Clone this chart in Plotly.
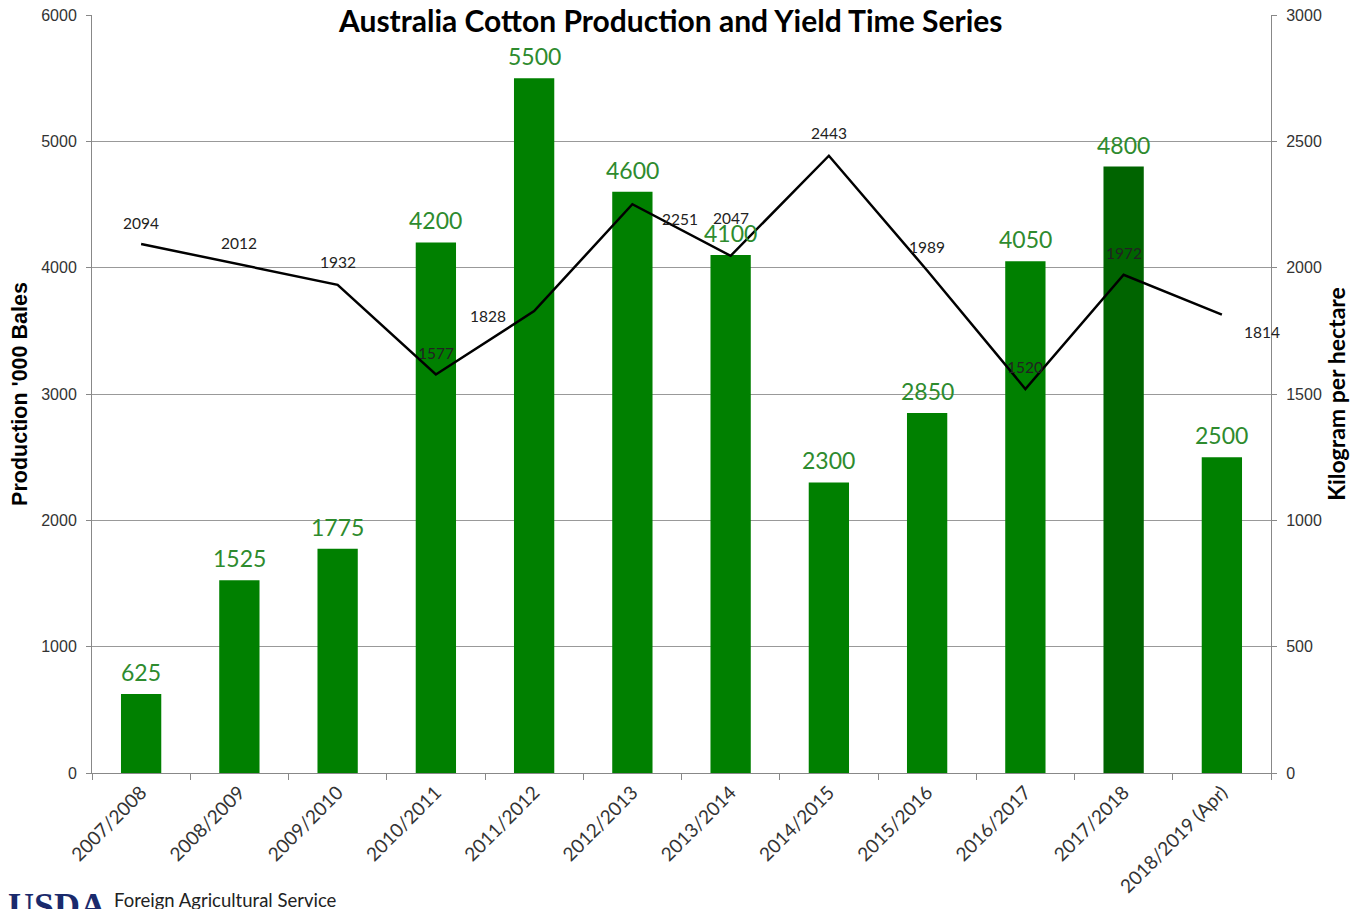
import plotly.graph_objects as go

seasons = ["2007/2008", "2008/2009", "2009/2010", "2010/2011", "2011/2012", "2012/2013",
           "2013/2014", "2014/2015", "2015/2016", "2016/2017", "2017/2018", "2018/2019 (Apr)"]
production = [625, 1525, 1775, 4200, 5500, 4600, 4100, 2300, 2850, 4050, 4800, 2500]
yield_kg = [2094, 2012, 1932, 1577, 1828, 2251, 2047, 2443, 1989, 1520, 1972, 1814]

# label offsets for the yield line labels (px), roughly where Excel put them
yield_label_shift = [(0, 21), (0, 22), (0, 23), (0, 22), (-46, -5), (48, -15),
                     (0, 38), (0, 23), (0, 23), (0, 22), (0, 22), (40, -17)]

bar_colors = ["#008000"] * len(seasons)
bar_colors[10] = "#006400"

font_family = "Lato, 'Open Sans', sans-serif"
arial = "'Liberation Sans', Arial, sans-serif"

fig = go.Figure()
fig.add_trace(go.Bar(
    x=seasons, y=production,
    marker=dict(color=bar_colors, line=dict(width=0)),
    name="Production",
    yaxis="y"
))
fig.add_trace(go.Scatter(
    x=seasons, y=yield_kg,
    mode="lines",
    line=dict(color="black", width=2.5),
    name="Yield",
    yaxis="y2"
))

annotations = []
for s, p in zip(seasons, production):
    annotations.append(dict(
        x=s, y=p, xref="x", yref="y", text=str(p), showarrow=False,
        yanchor="middle", yshift=22,
        font=dict(family=font_family, size=23, color="#2e8b2e")
    ))
for s, v, (dx, dy) in zip(seasons, yield_kg, yield_label_shift):
    annotations.append(dict(
        x=s, y=v, xref="x", yref="y2", text=str(v), showarrow=False,
        xshift=dx, yshift=dy, yanchor="middle",
        font=dict(family=font_family, size=15.5, color="#222")
    ))

# title sits on top of the top gridline with a white box
annotations.append(dict(
    x=0.49, y=1.0, xref="paper", yref="paper", yanchor="middle", yshift=-5,
    text="<b>Australia Cotton Production and Yield Time Series</b>",
    showarrow=False, bgcolor="white", borderpad=1,
    font=dict(family=font_family, size=30, color="black")
))
# USDA footer (partly cut off at the bottom, like the original)
annotations.append(dict(
    x=-0.073, y=-0.146, xref="paper", yref="paper", xanchor="left", yanchor="top",
    text="<b>USDA</b>", showarrow=False,
    font=dict(family="'Liberation Serif', serif", size=36, color="#1a2a6c")
))
annotations.append(dict(
    x=0.017, y=-0.151, xref="paper", yref="paper", xanchor="left", yanchor="top",
    text="Foreign Agricultural Service", showarrow=False,
    font=dict(family=font_family, size=18.5, color="#222")
))

# page body has an 8px margin, so margins are offset to land the plot area right
fig.update_layout(
    width=1360, height=909,
    margin=dict(l=84, r=97, t=7, b=144),
    plot_bgcolor="white",
    paper_bgcolor="white",
    showlegend=False,
    bargap=0.59,
    font=dict(family=font_family, color="#333"),
    annotations=annotations,
    xaxis=dict(
        type="category",
        range=[-0.5, len(seasons) - 0.5],  # stop the label annotations widening it
        automargin=False,
        tickangle=-45,
        tickson="boundaries",
        ticks="outside", ticklen=6, tickcolor="#888",
        showline=True, linecolor="#888", linewidth=1,
        showgrid=False,
        tickfont=dict(size=19, color="#333"),
    ),
    yaxis=dict(
        range=[0, 6000], dtick=1000,
        automargin=False,
        ticks="outside", ticklen=5, tickcolor="#888",
        ticklabelstandoff=6, ticklabeloverflow="allow",
        showline=True, linecolor="#888", linewidth=1,
        showgrid=True, gridcolor="#999", gridwidth=1,
        zeroline=False,
        tickfont=dict(family=arial, size=16, color="#333"),
        title=dict(text="<b>Production '000 Bales</b>", standoff=14,
                   font=dict(family=arial, size=21.5, color="black")),
    ),
    yaxis2=dict(
        range=[0, 3000], dtick=500,
        automargin=False,
        overlaying="y", side="right",
        ticks="outside", ticklen=5, tickcolor="#888",
        ticklabelstandoff=6, ticklabeloverflow="allow",
        showline=True, linecolor="#888", linewidth=1,
        showgrid=False, zeroline=False,
        tickfont=dict(family=arial, size=16, color="#333"),
        title=dict(text="<b>Kilogram per hectare</b>", standoff=8,
                   font=dict(family=font_family, size=23, color="black")),
    ),
)

fig.write_html("out.html")
